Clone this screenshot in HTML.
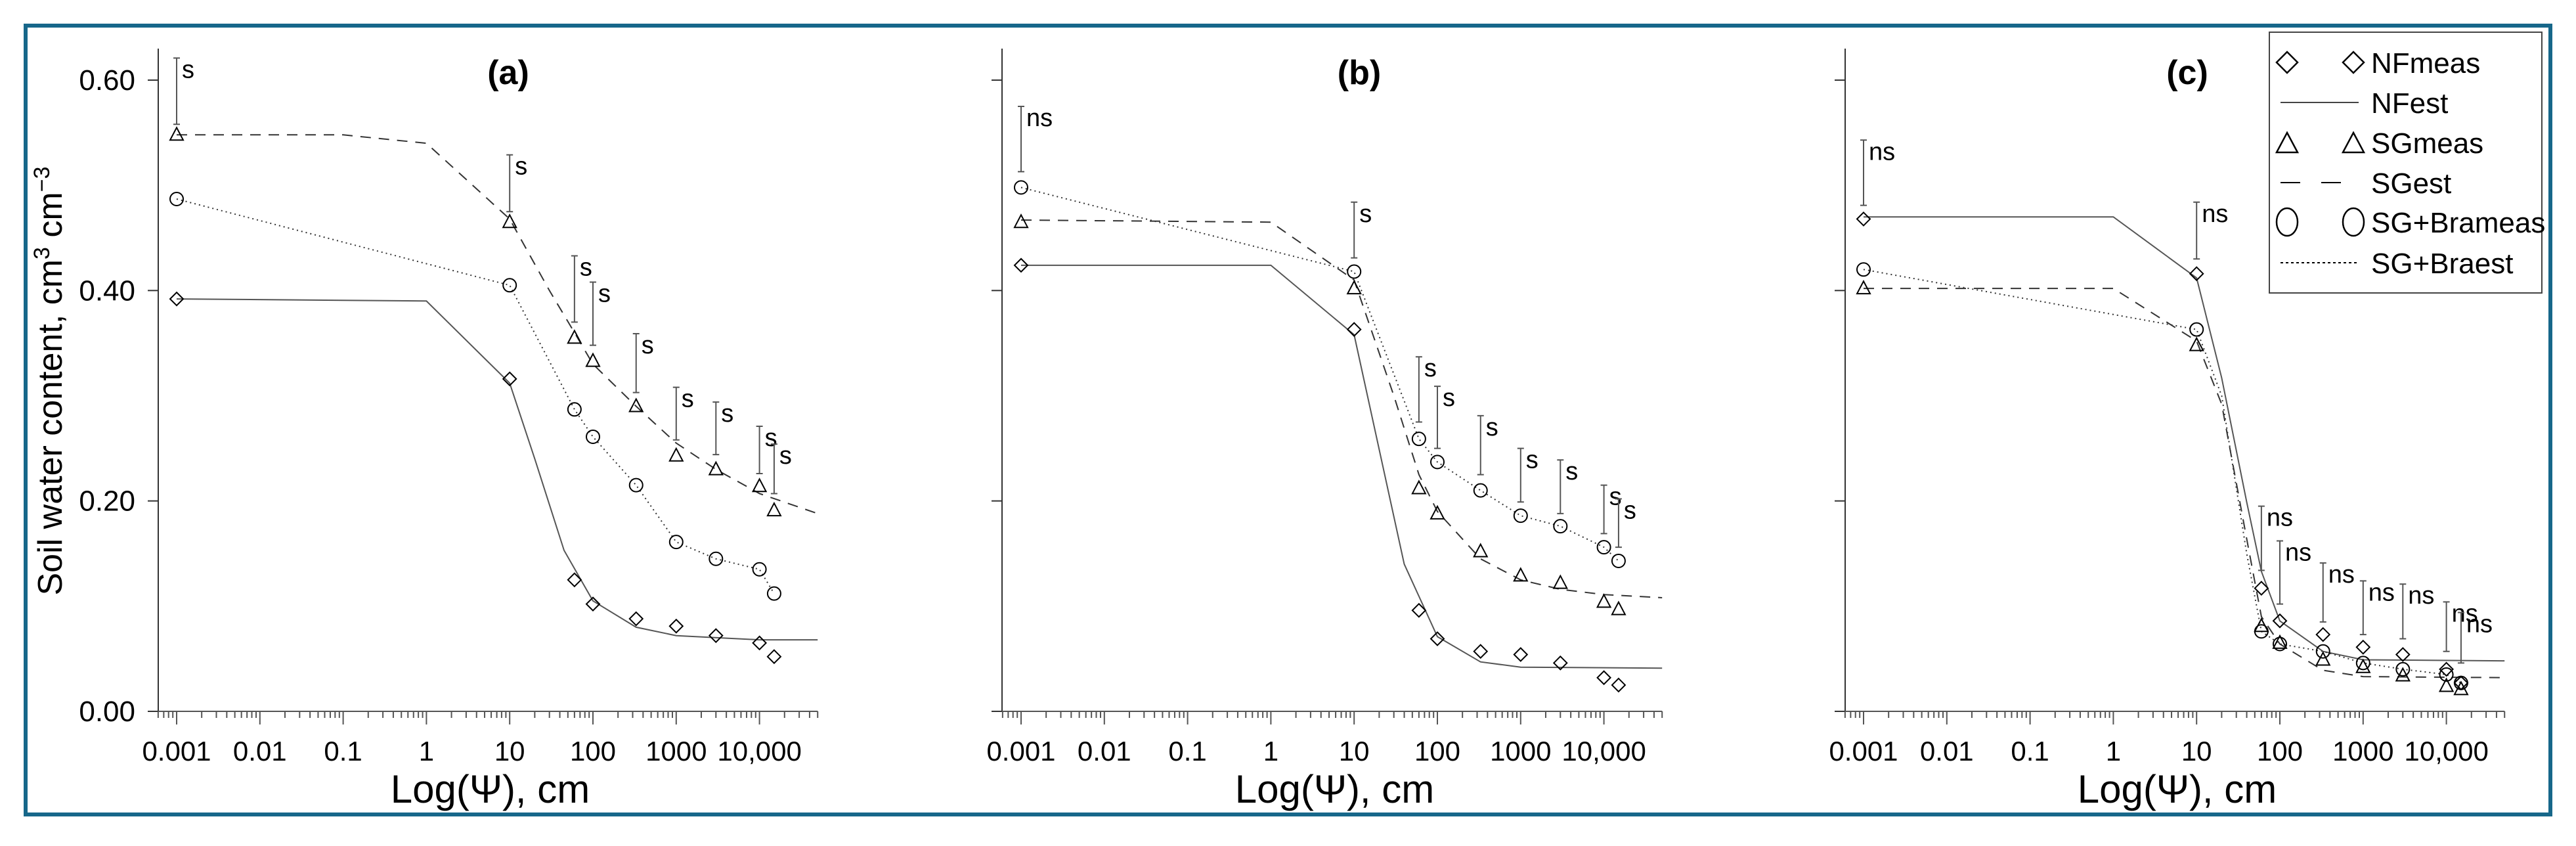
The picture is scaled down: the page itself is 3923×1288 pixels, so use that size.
<!DOCTYPE html>
<html><head><meta charset="utf-8">
<style>
html,body{margin:0;padding:0;background:#fff;}
svg{display:block;font-family:"Liberation Sans",Arial,sans-serif;}
</style></head>
<body>
<svg id="chart" width="3923" height="1288" viewBox="0 0 3923 1288" xmlns="http://www.w3.org/2000/svg">
<rect x="39" y="39" width="3845" height="1201" fill="#fff" stroke="#17678a" stroke-width="6"/>
<g id="panels"></g>
<g>
<rect x="3456" y="49" width="415" height="397" fill="#fff" stroke="#444" stroke-width="2"/>
<g>
<path d="M3483 79 L3499 95 L3483 111 L3467 95 Z" fill="none" stroke="#000" stroke-width="2.5"/>
<path d="M3584 79 L3600 95 L3584 111 L3568 95 Z" fill="none" stroke="#000" stroke-width="2.5"/>
<text x="3611" y="111" font-size="44">NFmeas</text></g>
<g>
<line x1="3473" y1="156" x2="3592" y2="156" stroke="#444" stroke-width="2"/>
<text x="3611" y="172" font-size="44">NFest</text></g>
<g>
<path d="M3483 202 L3499 232 L3467 232 Z" fill="none" stroke="#000" stroke-width="2.5"/>
<path d="M3584 202 L3600 232 L3568 232 Z" fill="none" stroke="#000" stroke-width="2.5"/>
<text x="3611" y="233" font-size="44">SGmeas</text></g>
<g>
<line x1="3473" y1="278" x2="3503" y2="278" stroke="#000" stroke-width="2"/>
<line x1="3535" y1="278" x2="3565" y2="278" stroke="#000" stroke-width="2"/>
<text x="3611" y="294" font-size="44">SGest</text></g>
<g>
<ellipse cx="3483" cy="338" rx="16" ry="21" fill="none" stroke="#000" stroke-width="2.5"/>
<ellipse cx="3584" cy="338" rx="16" ry="21" fill="none" stroke="#000" stroke-width="2.5"/>
<text x="3611" y="354" font-size="44">SG+Brameas</text></g>
<g>
<line x1="3473" y1="400" x2="3590" y2="400" stroke="#000" stroke-width="2" stroke-dasharray="4,4"/>
<text x="3611" y="416" font-size="44">SG+Braest</text></g>
</g>
<text transform="translate(94,580) rotate(-90)" text-anchor="middle" font-size="52">Soil water content, cm<tspan font-size="34" dy="-19">3</tspan><tspan dy="19"> cm</tspan><tspan font-size="34" dy="-19">−3</tspan></text>
</svg>
<script>
// shared matric potentials (cm) of measurements
const psiMeas = [0.001, 10, 60, 100, 330, 1000, 3000, 10000, 15000];
const xTickLabels = ["0.001","0.01","0.1","1","10","100","1000","10,000"];
const yTickValues = [0.00, 0.20, 0.40, 0.60];
const yTickLabels = ["0.00","0.20","0.40","0.60"];
const panelTitles = ["(a)","(b)","(c)"];
// Panel a
const aNFmeas = [0.392,0.316,0.125,0.102,0.088,0.081,0.072,0.065,0.052];
const aSGmeas = [0.548,0.465,0.355,0.333,0.290,0.243,0.230,0.214,0.191];
const aSGBmeas = [0.487,0.405,0.287,0.261,0.215,0.161,0.145,0.135,0.112];
const aNFestPsi = [0.001,1,10,20,45,100,330,1000,10000,50000];
const aNFest = [0.392,0.390,0.312,0.24,0.153,0.105,0.080,0.072,0.068,0.068];
const aSGestPsi = [0.001,0.1,1,10,30,60,100,330,1000,3000,10000,50000];
const aSGest = [0.548,0.548,0.540,0.468,0.40,0.36,0.33,0.29,0.255,0.23,0.207,0.188];
const aSGBestPsi = [0.001,10,60,100,330,1000,3000,10000,15000];
const aSGBest = [0.487,0.405,0.287,0.261,0.215,0.161,0.145,0.135,0.112];
const aBarHi = [0.621,0.529,0.433,0.408,0.359,0.308,0.294,0.271,0.254];
const aBarLo = [0.558,0.475,0.370,0.348,0.303,0.258,0.244,0.226,0.207];
const aSig = ["s","s","s","s","s","s","s","s","s"];
// Panel b
const bNFmeas = [0.424,0.363,0.096,0.069,0.057,0.054,0.046,0.032,0.025];
const bSGmeas = [0.465,0.402,0.212,0.188,0.152,0.129,0.122,0.104,0.097];
const bSGBmeas = [0.498,0.418,0.259,0.237,0.210,0.186,0.176,0.156,0.143];
const bNFestPsi = [0.001,1,10,40,100,330,1000,50000];
const bNFest = [0.424,0.424,0.358,0.140,0.071,0.047,0.042,0.041];
const bSGestPsi = [0.001,1,10,30,60,100,330,1000,3000,10000,50000];
const bSGest = [0.467,0.465,0.41,0.30,0.225,0.19,0.145,0.125,0.116,0.111,0.108];
const bSGBestPsi = [0.001,10,60,100,330,1000,3000,10000,15000];
const bSGBest = [0.498,0.418,0.259,0.237,0.210,0.186,0.176,0.156,0.143];
const bBarHi = [0.575,0.484,0.337,0.309,0.281,0.250,0.239,0.215,0.202];
const bBarLo = [0.513,0.431,0.275,0.250,0.225,0.199,0.188,0.169,0.156];
const bSig = ["ns","s","s","s","s","s","s","s","s"];
// Panel c
const cNFmeas = [0.468,0.416,0.117,0.086,0.073,0.061,0.054,0.040,0.027];
const cSGmeas = [0.402,0.348,0.081,0.065,0.049,0.042,0.034,0.024,0.021];
const cSGBmeas = [0.420,0.363,0.076,0.064,0.057,0.046,0.040,0.035,0.027];
const cNFestPsi = [0.001,1,10,20,40,60,100,330,1000,50000];
const cNFest = [0.470,0.470,0.412,0.317,0.199,0.133,0.086,0.057,0.049,0.048];
const cSGestPsi = [0.001,1,10,20,40,60,100,330,1000,50000];
const cSGest = [0.402,0.402,0.352,0.292,0.164,0.090,0.064,0.039,0.033,0.032];
const cSGBestPsi = [0.001,10,20,40,60,100,330,1000,3000,10000,15000];
const cSGBest = [0.420,0.363,0.30,0.15,0.076,0.064,0.057,0.046,0.040,0.035,0.027];
const cBarHi = [0.543,0.484,0.195,0.162,0.141,0.124,0.121,0.104,0.094];
const cBarLo = [0.481,0.430,0.134,0.102,0.085,0.073,0.069,0.057,0.046];
const cSig = ["ns","ns","ns","ns","ns","ns","ns","ns","ns"];

const NS = "http://www.w3.org/2000/svg";
const root = document.getElementById("panels");
function mk(tag, attrs, parent){const e=document.createElementNS(NS,tag);for(const k in attrs)e.setAttribute(k,attrs[k]);(parent||root).appendChild(e);return e;}

const Y0 = 1083, YS = 1601.7, DEC = 126.8;
function yScale(v){return Y0 - v*YS;}

function drawPanel(p){
  const g = mk("g",{});
  
  
  const xS = psi => p.x0 + (Math.log10(psi)+3)*DEC;
  const xEnd = p.x0 + (4.7+3)*DEC;
  const ya = mk("line",{x1:p.ax,y1:74,x2:p.ax,y2:Y0,stroke:"#333","stroke-width":2},g);
  
  
  const xa = mk("line",{x1:p.ax-16,y1:Y0,x2:xEnd,y2:Y0,stroke:"#555","stroke-width":2},g);
  
  
  yTickValues.forEach((v,i)=>{
    const y=yScale(v);
    const t=mk("line",{x1:p.ax-16,y1:y,x2:p.ax,y2:y,stroke:"#333","stroke-width":2},g);
    
    
    if(p.id==="a"){
      const l=mk("text",{x:206,y:y+15,"text-anchor":"end","font-size":44},g);
      
      
      l.textContent=yTickLabels[i];
    }
  });
  for(let d=-4; d<=4; d++){
    for(let m=1;m<=9;m++){
      const lg=d+Math.log10(m);
      const x=p.x0+(lg+3)*DEC;
      if(x<p.ax-1||x>xEnd+1) continue;
      const major = m===1 && d>=-3;
      const t=mk("line",{x1:x,y1:Y0,x2:x,y2:Y0+(major?20:10),stroke:"#555","stroke-width":2},g);
      
      
    }
  }
  xTickLabels.forEach((s,i)=>{
    const l=mk("text",{x:p.x0+i*DEC,y:1158,"text-anchor":"middle","font-size":42},g);
    
    
    l.textContent=s;
  });
  const xt=mk("text",{x:p.x0+3.75*DEC+2,y:1222,"text-anchor":"middle","font-size":60},g);
  
  
  xt.textContent="Log(Ψ), cm";
  const tt=mk("text",{x:p.titleX,y:128,"text-anchor":"middle","font-size":52,"font-weight":"bold"},g);
  
  
  tt.textContent=p.title;
  function line(psis, vals, dash, name, color){
    const pts=psis.map((s,i)=>xS(s).toFixed(1)+","+yScale(vals[i]).toFixed(1)).join(" ");
    const e=mk("polyline",{points:pts,fill:"none",stroke:color,"stroke-width":2,"stroke-dasharray":dash},g);
    
    
  }
  line(p.nfPsi,p.nf,"none","nfest-line","#555");
  line(p.sgPsi,p.sg,"16,12","sgest-line","#333");
  line(p.sgbPsi,p.sgb,"2,5","sgbraest-line","#333");
  psiMeas.forEach((s,i)=>{
    const x=xS(s), y1=yScale(p.hi[i]), y2=yScale(p.lo[i]);
    const b=mk("path",{d:`M${x} ${y1}V${y2}M${x-5} ${y1}H${x+5}M${x-5} ${y2}H${x+5}`,stroke:"#555","stroke-width":2,fill:"none"},g);
    
    
    const t=mk("text",{x:x+8,y:y1+30,"font-size":38},g);
    
    
    t.textContent=p.sig[i];
  });
  psiMeas.forEach((s,i)=>{
    const x=xS(s);
    let y=yScale(p.nfm[i]);
    const d=mk("path",{d:`M${x} ${y-10}L${x+10} ${y}L${x} ${y+10}L${x-10} ${y}Z`,fill:"none",stroke:"#000","stroke-width":2},g);
    
    
    y=yScale(p.sgm[i]);
    const t=mk("path",{d:`M${x} ${y-11}L${x+10} ${y+8}L${x-10} ${y+8}Z`,fill:"none",stroke:"#000","stroke-width":2},g);
    
    
    y=yScale(p.sgbm[i]);
    const c=mk("circle",{cx:x,cy:y,r:10,fill:"none",stroke:"#000","stroke-width":2},g);
    
    
  });
}
drawPanel({id:"a",title:panelTitles[0],ax:241,x0:269,titleX:774,nfm:aNFmeas,sgm:aSGmeas,sgbm:aSGBmeas,nfPsi:aNFestPsi,nf:aNFest,sgPsi:aSGestPsi,sg:aSGest,sgbPsi:aSGBestPsi,sgb:aSGBest,hi:aBarHi,lo:aBarLo,sig:aSig});
drawPanel({id:"b",title:panelTitles[1],ax:1526,x0:1555,titleX:2070,nfm:bNFmeas,sgm:bSGmeas,sgbm:bSGBmeas,nfPsi:bNFestPsi,nf:bNFest,sgPsi:bSGestPsi,sg:bSGest,sgbPsi:bSGBestPsi,sgb:bSGBest,hi:bBarHi,lo:bBarLo,sig:bSig});
drawPanel({id:"c",title:panelTitles[2],ax:2810,x0:2838,titleX:3331,nfm:cNFmeas,sgm:cSGmeas,sgbm:cSGBmeas,nfPsi:cNFestPsi,nf:cNFest,sgPsi:cSGestPsi,sg:cSGest,sgbPsi:cSGBestPsi,sgb:cSGBest,hi:cBarHi,lo:cBarLo,sig:cSig});
</script>
</body></html>
